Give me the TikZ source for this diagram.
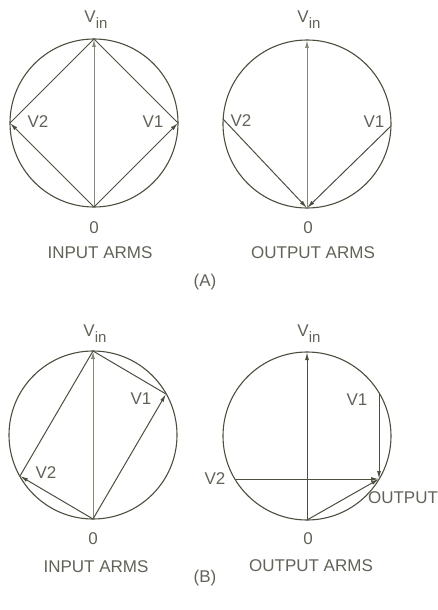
\documentclass[tikz,border=0pt]{standalone}
\usepackage{fontspec}
\setmainfont{Liberation Sans}
\usepackage{xcolor}
\usepackage{tikz}
\usetikzlibrary{arrows.meta}

\definecolor{ink}{RGB}{78,78,64}
\definecolor{pale}{RGB}{135,135,122}
\definecolor{lettr}{RGB}{98,98,88}
\newcommand{\Vin}{V\raisebox{-6pt}{\fontsize{15}{15}\selectfont in}}

\begin{document}
\begin{tikzpicture}[x=1pt,y=-1pt,
    ring/.style={draw=ink,line width=1.1pt},
    chord/.style={draw=ink,line width=1pt},
    arm/.style={chord,-{Latex[length=8pt,width=4pt]}},
    lbl/.style={text=lettr,inner sep=0pt,font=\fontsize{17}{17}\selectfont}]
    \useasboundingbox (0,0) rectangle (438,610);

    % (A) input arms
    \coordinate (aC) at (94,123);
    \coordinate (aVin) at (94,39);
    \coordinate (aO) at (94,207);
    \coordinate (aV1) at (178,123);
    \coordinate (aV2) at (10,123);
    \draw[ring] (aC) circle[radius=84pt];
    \draw[chord] (aV1) -- (aVin) -- (aV2);
    \draw[arm,draw=pale] (aO) -- (aVin);
    \draw[arm] (aO) -- (aV1);
    \draw[arm] (aO) -- (aV2);
    \node[lbl] (aVinLbl) at (96,20) {\Vin};
    \node[lbl] (aOLbl) at (94,228) {0};
    \node[lbl] (aV1Lbl) at (153,122) {V1};
    \node[lbl] (aV2Lbl) at (38,122) {V2};
    \node[lbl] (aName) at (100,253) {INPUT ARMS};

    % (A) output arms
    \coordinate (bC) at (307,124);
    \coordinate (bVin) at (307,40);
    \coordinate (bO) at (307,208);
    \coordinate (bV1) at (391,126);
    \coordinate (bV2) at (223,119);
    \draw[ring] (bC) circle[radius=84pt];
    \draw[arm,draw=pale] (bO) -- (bVin);
    \draw[arm] (bV1) -- (bO);
    \draw[arm] (bV2) -- (bO);
    \node[lbl] (bVinLbl) at (309,20) {\Vin};
    \node[lbl] (bOLbl) at (308,228) {0};
    \node[lbl] (bV1Lbl) at (374,122) {V1};
    \node[lbl] (bV2Lbl) at (241,121) {V2};
    \node[lbl] (bName) at (313,253) {OUTPUT ARMS};

    \node[lbl] (capA) at (205,282) {(A)};

    % (B) input arms
    \coordinate (cC) at (93,435);
    \coordinate (cVin) at (93,351);
    \coordinate (cO) at (93,519);
    \coordinate (cV1) at (166,394);
    \coordinate (cV2) at (20,476);
    \draw[ring] (cC) circle[radius=84pt];
    \draw[chord] (cV1) -- (cVin) -- (cV2);
    \draw[arm,draw=pale] (cO) -- (cVin);
    \draw[arm] (cO) -- (cV1);
    \draw[arm] (cO) -- (cV2);
    \node[lbl] (cVinLbl) at (95,334) {\Vin};
    \node[lbl] (cOLbl) at (93,539) {0};
    \node[lbl] (cV1Lbl) at (141,399) {V1};
    \node[lbl] (cV2Lbl) at (46,473) {V2};
    \node[lbl] (cName) at (96,567) {INPUT ARMS};

    % (B) output arms
    \coordinate (dC) at (307,436);
    \coordinate (dVin) at (307,352);
    \coordinate (dO) at (307,520);
    \coordinate (dV1) at (379,393);
    \coordinate (dV2) at (235,479);
    \coordinate (dOut) at (379,479);
    \draw[ring] (dC) circle[radius=84pt];
    \draw[arm] (dO) -- (dVin);
    \draw[arm] (dV1) -- (dOut);
    \draw[arm] (dV2) -- (dOut);
    \draw[arm] (dO) -- (dOut);
    \node[lbl] (dVinLbl) at (309,334) {\Vin};
    \node[lbl] (dOLbl) at (308,539) {0};
    \node[lbl] (dV1Lbl) at (357,400) {V1};
    \node[lbl] (dV2Lbl) at (215,479) {V2};
    \node[lbl] (dOutLbl) at (403,498) {OUTPUT};
    \node[lbl] (dName) at (311,566) {OUTPUT ARMS};

    \node[lbl] (capB) at (205,578) {(B)};
\end{tikzpicture}
\end{document}
